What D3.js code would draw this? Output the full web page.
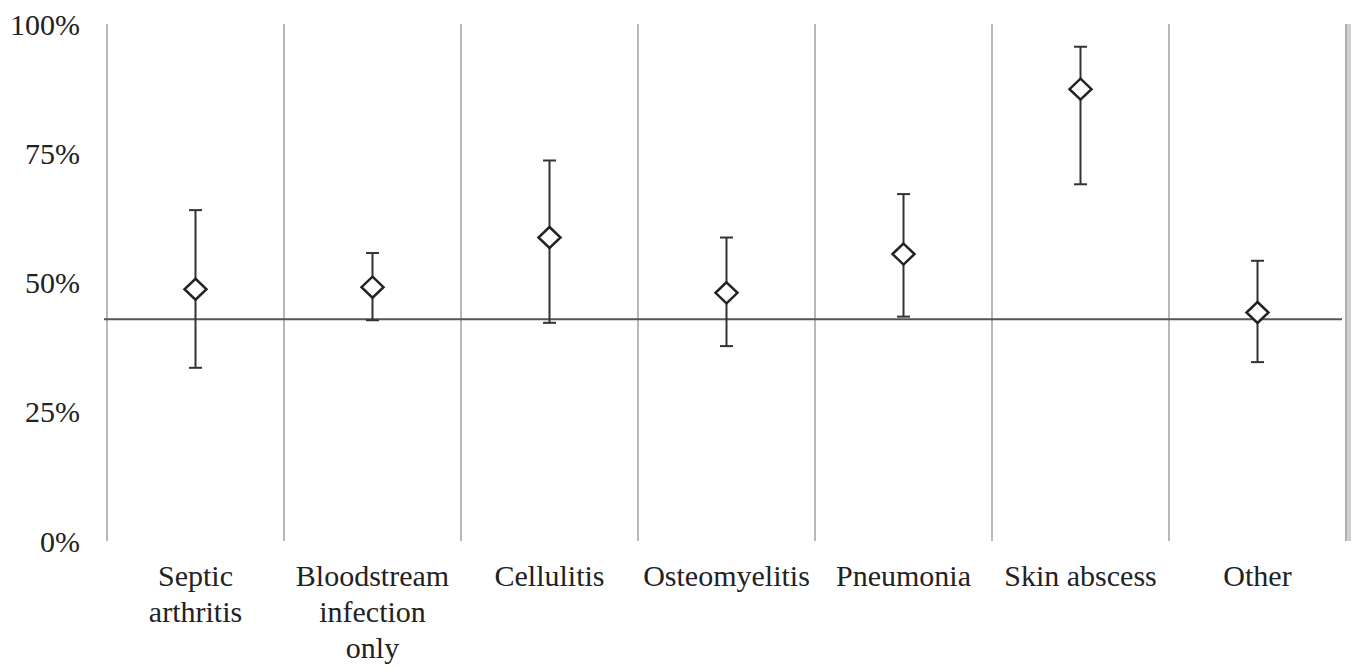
<!DOCTYPE html>
<html>
<head>
<meta charset="utf-8">
<script src="https://cdn.jsdelivr.net/npm/d3@7"></script>
<style>
  html, body { margin: 0; padding: 0; background: #fff; }
  svg { display: block; }
  text { font-family: "Liberation Serif", "Times New Roman", serif; fill: #222; }
</style>
</head>
<body>
<svg id="chart" width="1358" height="669"></svg>
<script>
const categories = [
  ["Septic", "arthritis"],
  ["Bloodstream", "infection", "only"],
  ["Cellulitis"],
  ["Osteomyelitis"],
  ["Pneumonia"],
  ["Skin abscess"],
  ["Other"]
];
const categoryKeys = ["Septic arthritis", "Bloodstream infection only", "Cellulitis", "Osteomyelitis", "Pneumonia", "Skin abscess", "Other"];
const pointValues = [48.7, 49.1, 58.7, 48.0, 55.5, 87.4, 44.2];
const upperValues = [64.0, 55.7, 73.6, 58.7, 67.1, 95.6, 54.2];
const lowerValues = [33.5, 42.7, 42.2, 37.7, 43.4, 69.0, 34.6];
const referenceValue = 42.9;
const yTicks = [0, 25, 50, 75, 100];

const svg = d3.select("#chart");

const x = d3.scaleBand().domain(categoryKeys).range([107, 1346]).padding(0);
const y = d3.scaleLinear().domain([0, 100]).range([541, 24]);

// vertical separators
const bounds = categoryKeys.map(k => x(k)).concat([x.range()[1]]);
svg.append("g").selectAll("line").data(bounds.slice(0, -1)).join("line")
  .attr("x1", d => d).attr("x2", d => d)
  .attr("y1", y(100)).attr("y2", y(0))
  .attr("stroke", "#b8b8b8").attr("stroke-width", 2);
// right border (thicker)
svg.append("rect")
  .attr("x", bounds[bounds.length - 1] - 1).attr("y", y(100))
  .attr("width", 6).attr("height", y(0) - y(100))
  .attr("fill", "#cfcfcf");
svg.append("line")
  .attr("x1", bounds[bounds.length - 1]).attr("x2", bounds[bounds.length - 1])
  .attr("y1", y(100)).attr("y2", y(0))
  .attr("stroke", "#b0b0b0").attr("stroke-width", 2);

// y tick labels
svg.append("g").selectAll("text").data(yTicks).join("text")
  .attr("x", 80).attr("y", d => y(d))
  .attr("dy", "0.35em")
  .attr("text-anchor", "end")
  .attr("font-size", 30)
  .text(d => d + "%");

// reference line
svg.append("line")
  .attr("x1", 104).attr("x2", 1342)
  .attr("y1", y(referenceValue)).attr("y2", y(referenceValue))
  .attr("stroke", "#555").attr("stroke-width", 2);

// error bars
const cx = k => x(k) + x.bandwidth() / 2;
const eb = svg.append("g").attr("stroke", "#333").attr("stroke-width", 2);
categoryKeys.forEach((k, i) => {
  const c = cx(k);
  eb.append("line").attr("x1", c).attr("x2", c).attr("y1", y(upperValues[i])).attr("y2", y(lowerValues[i]));
  eb.append("line").attr("x1", c - 6.5).attr("x2", c + 6.5).attr("y1", y(upperValues[i])).attr("y2", y(upperValues[i]));
  eb.append("line").attr("x1", c - 6.5).attr("x2", c + 6.5).attr("y1", y(lowerValues[i])).attr("y2", y(lowerValues[i]));
});

// diamonds
svg.append("g").selectAll("path").data(categoryKeys).join("path")
  .attr("d", "M0,-10.5L11,0L0,10.5L-11,0Z")
  .attr("transform", (k, i) => `translate(${cx(k)},${y(pointValues[i])})`)
  .attr("fill", "#fff").attr("stroke", "#222").attr("stroke-width", 2.5);

// x labels
const xl = svg.append("g");
categoryKeys.forEach((k, i) => {
  const t = xl.append("text")
    .attr("x", cx(k)).attr("y", 586)
    .attr("text-anchor", "middle")
    .attr("font-size", 30);
  categories[i].forEach((line, j) => {
    t.append("tspan").attr("x", cx(k)).attr("y", 586 + j * 36).text(line);
  });
});
</script>
</body>
</html>
